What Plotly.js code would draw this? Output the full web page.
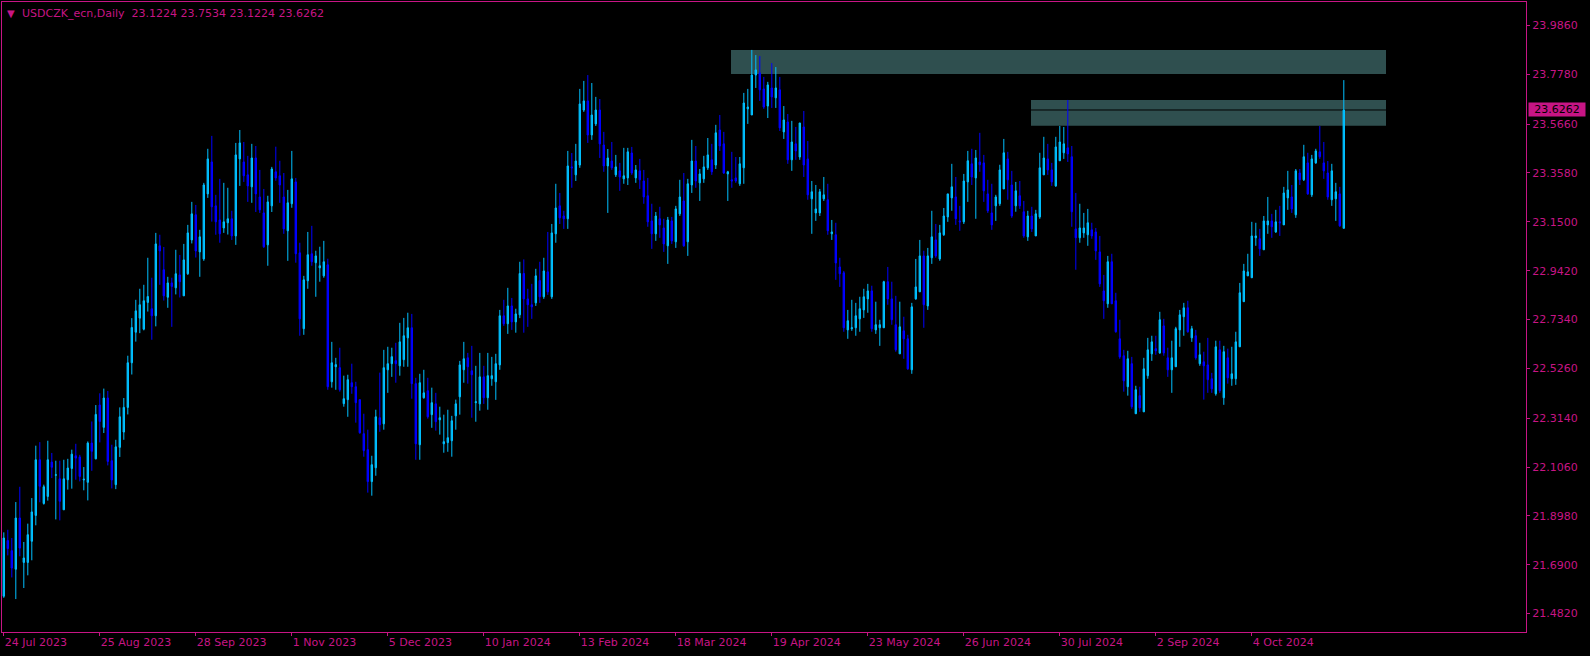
<!DOCTYPE html>
<html><head><meta charset="utf-8">
<script src="https://cdn.plot.ly/plotly-3.0.1.min.js"></script>
<style>html,body{margin:0;padding:0;background:#000;}#chart{width:1590px;height:656px;}</style>
</head><body><div id="chart"></div>
<script>
const symbol = 'USDCZK_ecn';
const period = 'Daily';

const open = [
21.556,21.793,21.750,21.671,21.889,21.700,21.700,21.790,21.900,22.137,
21.951,21.981,22.127,22.071,22.056,21.924,22.052,22.100,22.154,22.149,
22.051,22.041,22.208,22.141,22.370,22.275,22.400,22.133,22.031,22.190,
22.255,22.360,22.550,22.680,22.740,22.693,22.807,22.780,22.750,23.048,
22.946,22.829,22.890,22.869,22.924,22.835,22.929,23.073,23.180,23.022,
22.992,23.269,23.405,23.218,23.158,23.124,23.146,23.163,23.090,23.418,
23.405,23.350,23.299,23.422,23.256,23.188,23.052,23.218,23.363,23.346,
23.256,23.112,23.227,23.320,23.018,22.695,22.899,23.014,22.976,22.954,
22.920,22.967,22.469,22.533,22.529,22.376,22.393,22.465,22.448,22.393,
22.248,22.180,22.044,22.103,22.316,22.290,22.520,22.546,22.559,22.537,
22.563,22.656,22.699,22.461,22.201,22.401,22.431,22.329,22.375,22.307,
22.205,22.210,22.218,22.324,22.405,22.520,22.571,22.516,22.380,22.375,
22.490,22.401,22.482,22.469,22.541,22.750,22.716,22.792,22.724,22.754,
22.930,22.822,22.797,22.805,22.900,22.831,22.937,22.831,23.099,23.218,
23.175,23.163,23.384,23.350,23.392,23.626,23.665,23.520,23.567,23.626,
23.477,23.388,23.409,23.350,23.367,23.333,23.337,23.443,23.337,23.367,
23.324,23.261,23.154,23.099,23.163,23.124,23.048,23.154,23.065,23.184,
23.239,23.065,23.307,23.409,23.316,23.333,23.380,23.414,23.392,23.541,
23.482,23.354,23.329,23.337,23.312,23.380,23.631,23.605,23.775,23.784,
23.716,23.643,23.720,23.678,23.712,23.533,23.575,23.414,23.482,23.426,
23.554,23.418,23.248,23.188,23.188,23.248,23.244,23.099,23.095,22.958,
22.933,22.690,22.695,22.699,22.737,22.775,22.822,22.856,22.690,22.699,
22.699,22.895,22.822,22.712,22.588,22.686,22.652,22.520,22.822,22.852,
23.005,22.792,22.997,23.073,22.992,23.095,23.171,23.252,23.256,23.154,
23.150,23.320,23.397,23.337,23.405,23.401,23.269,23.188,23.218,23.227,
23.290,23.418,23.307,23.218,23.261,23.193,23.086,23.175,23.090,23.171,
23.350,23.418,23.371,23.303,23.410,23.444,23.465,23.427,23.120,23.082,
23.103,23.095,23.116,23.107,23.022,22.856,22.801,22.980,22.814,22.652,
22.580,22.448,22.546,22.333,22.410,22.341,22.495,22.588,22.610,22.592,
22.707,22.571,22.520,22.533,22.690,22.746,22.784,22.656,22.665,22.546,
22.554,22.541,22.482,22.418,22.605,22.401,22.571,22.482,22.482,22.618,
22.810,22.920,22.912,23.082,23.078,23.031,23.137,23.154,23.107,23.150,
23.137,23.252,23.256,23.180,23.358,23.329,23.401,23.265,23.401,23.448,
23.401,23.358,23.244,23.248,23.269,23.1224];

const high = [
21.828,21.839,21.804,21.957,22.022,21.787,21.865,21.974,22.197,22.212,
22.031,22.218,22.166,22.133,22.133,22.137,22.141,22.180,22.205,22.158,
22.106,22.215,22.300,22.370,22.420,22.440,22.430,22.201,22.222,22.360,
22.400,22.580,22.740,22.818,22.865,22.882,22.997,22.912,23.103,23.095,
23.043,22.916,22.912,23.031,23.009,23.056,23.137,23.235,23.222,23.116,
23.316,23.461,23.516,23.265,23.333,23.316,23.295,23.197,23.486,23.541,
23.490,23.431,23.482,23.473,23.371,23.290,23.261,23.384,23.470,23.410,
23.358,23.286,23.452,23.337,23.061,22.920,23.107,23.133,23.027,23.044,
23.069,22.993,22.639,22.571,22.614,22.495,22.499,22.546,22.469,22.393,
22.333,22.265,22.154,22.350,22.508,22.605,22.618,22.614,22.635,22.720,
22.741,22.763,22.758,22.486,22.503,22.520,22.486,22.444,22.422,22.363,
22.329,22.350,22.324,22.393,22.558,22.639,22.592,22.622,22.537,22.592,
22.537,22.592,22.575,22.588,22.775,22.818,22.869,22.826,22.780,22.980,
22.990,22.865,22.886,22.950,22.980,22.997,23.107,23.141,23.312,23.273,
23.197,23.452,23.443,23.482,23.716,23.750,23.775,23.741,23.682,23.673,
23.533,23.460,23.490,23.435,23.401,23.465,23.465,23.469,23.392,23.418,
23.371,23.337,23.227,23.192,23.214,23.163,23.171,23.171,23.218,23.329,
23.358,23.333,23.499,23.473,23.375,23.431,23.507,23.482,23.563,23.605,
23.533,23.367,23.448,23.426,23.426,23.699,23.716,23.882,23.860,23.856,
23.767,23.746,23.826,23.809,23.767,23.643,23.609,23.580,23.554,23.571,
23.622,23.494,23.324,23.307,23.290,23.341,23.312,23.158,23.146,22.997,
22.941,22.775,22.818,22.805,22.831,22.865,22.886,22.878,22.810,22.733,
22.899,22.958,22.895,22.835,22.810,22.746,22.669,22.805,22.992,23.073,
23.027,23.039,23.197,23.141,23.137,23.209,23.269,23.397,23.341,23.218,
23.354,23.452,23.461,23.456,23.529,23.435,23.329,23.312,23.265,23.393,
23.503,23.448,23.367,23.320,23.324,23.239,23.197,23.214,23.201,23.444,
23.512,23.482,23.401,23.512,23.558,23.554,23.669,23.473,23.273,23.227,
23.188,23.205,23.146,23.124,23.090,22.924,23.005,23.014,22.848,22.733,
22.605,22.601,22.575,22.452,22.448,22.571,22.656,22.665,22.665,22.767,
22.737,22.614,22.644,22.703,22.775,22.805,22.814,22.707,22.690,22.635,
22.597,22.656,22.507,22.644,22.644,22.622,22.610,22.618,22.682,22.890,
22.971,23.014,23.150,23.146,23.120,23.175,23.256,23.184,23.201,23.218,
23.299,23.367,23.307,23.375,23.375,23.478,23.444,23.435,23.461,23.558,
23.490,23.409,23.397,23.316,23.299,23.7534];

const low = [
21.549,21.730,21.636,21.544,21.726,21.591,21.645,21.709,21.858,21.956,
21.946,21.963,22.059,21.883,21.879,21.924,22.010,22.014,22.052,22.045,
22.007,21.964,22.090,22.139,22.211,22.251,22.113,22.015,22.012,22.149,
22.222,22.330,22.500,22.640,22.676,22.688,22.768,22.648,22.705,22.882,
22.815,22.784,22.703,22.841,22.828,22.835,22.924,23.058,22.998,22.916,
22.984,23.252,23.151,23.095,23.061,23.103,23.096,23.073,23.052,23.303,
23.320,23.235,23.231,23.192,23.188,23.039,22.963,23.192,23.325,23.231,
23.099,22.984,23.210,22.976,22.665,22.669,22.865,22.963,22.831,22.895,
22.912,22.435,22.444,22.435,22.427,22.363,22.320,22.418,22.295,22.248,
22.150,21.997,21.984,22.069,22.256,22.265,22.422,22.490,22.465,22.495,
22.533,22.533,22.397,22.137,22.137,22.397,22.312,22.273,22.261,22.244,
22.167,22.171,22.150,22.265,22.329,22.465,22.461,22.316,22.299,22.346,
22.375,22.350,22.452,22.392,22.520,22.707,22.673,22.690,22.678,22.740,
22.678,22.703,22.737,22.792,22.805,22.822,22.839,22.822,23.061,23.141,
23.120,23.120,23.295,23.324,23.380,23.618,23.486,23.499,23.558,23.422,
23.363,23.188,23.371,23.341,23.282,23.312,23.307,23.350,23.316,23.290,
23.227,23.129,23.035,23.069,23.082,23.022,22.971,23.056,23.039,23.175,
23.044,23.005,23.273,23.295,23.239,23.316,23.371,23.350,23.375,23.452,
23.354,23.239,23.295,23.316,23.303,23.312,23.567,23.605,23.720,23.665,
23.631,23.592,23.635,23.635,23.537,23.503,23.397,23.367,23.414,23.414,
23.341,23.244,23.099,23.154,23.175,23.239,23.095,23.073,22.903,22.873,
22.682,22.652,22.686,22.665,22.682,22.741,22.763,22.682,22.673,22.622,
22.699,22.797,22.712,22.597,22.588,22.567,22.520,22.503,22.818,22.852,
22.699,22.775,22.971,22.997,22.984,23.090,23.150,23.197,23.137,23.112,
23.141,23.235,23.307,23.163,23.363,23.235,23.188,23.116,23.154,23.218,
23.290,23.244,23.167,23.193,23.205,23.082,23.069,23.107,23.090,23.163,
23.350,23.350,23.303,23.299,23.410,23.418,23.405,23.129,22.946,23.061,
23.082,23.048,23.078,22.988,22.873,22.737,22.784,22.801,22.678,22.567,
22.427,22.410,22.354,22.333,22.341,22.341,22.482,22.558,22.584,22.588,
22.580,22.490,22.422,22.533,22.618,22.665,22.678,22.639,22.563,22.537,
22.393,22.422,22.422,22.410,22.422,22.371,22.461,22.452,22.456,22.618,
22.810,22.920,22.912,23.048,23.005,23.031,23.099,23.082,23.103,23.090,
23.137,23.201,23.188,23.167,23.307,23.324,23.265,23.256,23.397,23.418,
23.333,23.244,23.218,23.154,23.129,23.1224];

const close = [
21.804,21.759,21.676,21.889,21.761,21.719,21.818,21.915,22.137,22.024,
22.022,22.137,22.105,22.073,21.960,22.056,22.102,22.161,22.144,22.066,
22.054,22.208,22.173,22.330,22.300,22.400,22.130,22.051,22.192,22.320,
22.360,22.550,22.700,22.771,22.797,22.814,22.832,22.750,23.056,23.026,
22.835,22.890,22.875,22.929,22.895,22.988,23.103,23.184,23.026,23.086,
23.307,23.418,23.214,23.150,23.099,23.150,23.163,23.090,23.435,23.486,
23.346,23.303,23.422,23.269,23.201,23.044,23.235,23.375,23.337,23.307,
23.120,23.231,23.333,23.014,22.737,22.903,23.010,22.980,23.005,22.963,
22.980,22.448,22.550,22.542,22.435,22.397,22.478,22.448,22.380,22.252,
22.176,22.044,22.116,22.320,22.286,22.529,22.546,22.576,22.546,22.639,
22.665,22.699,22.461,22.205,22.465,22.422,22.320,22.380,22.299,22.316,
22.214,22.231,22.303,22.375,22.541,22.567,22.533,22.499,22.384,22.490,
22.401,22.495,22.495,22.546,22.750,22.716,22.792,22.724,22.758,22.930,
22.822,22.797,22.788,22.920,22.831,22.941,22.852,23.103,23.209,23.167,
23.163,23.388,23.380,23.409,23.652,23.665,23.520,23.605,23.626,23.482,
23.388,23.422,23.380,23.384,23.341,23.346,23.448,23.358,23.371,23.329,
23.256,23.150,23.099,23.175,23.137,23.056,23.158,23.069,23.205,23.256,
23.048,23.312,23.409,23.324,23.354,23.384,23.435,23.363,23.529,23.473,
23.358,23.363,23.324,23.324,23.397,23.656,23.639,23.775,23.797,23.712,
23.639,23.733,23.682,23.720,23.550,23.584,23.414,23.490,23.452,23.571,
23.392,23.265,23.278,23.205,23.278,23.265,23.112,23.107,22.975,22.929,
22.699,22.729,22.699,22.750,22.780,22.831,22.856,22.695,22.712,22.712,
22.895,22.822,22.733,22.605,22.703,22.652,22.524,22.788,22.873,23.005,
22.797,23.005,23.086,23.005,23.103,23.175,23.269,23.299,23.163,23.150,
23.324,23.410,23.341,23.422,23.393,23.282,23.197,23.137,23.256,23.371,
23.444,23.329,23.175,23.282,23.218,23.090,23.175,23.120,23.184,23.380,
23.422,23.371,23.320,23.469,23.490,23.482,23.439,23.193,23.082,23.124,
23.124,23.146,23.090,23.026,22.886,22.814,22.980,22.801,22.682,22.575,
22.473,22.567,22.363,22.435,22.358,22.524,22.605,22.639,22.601,22.733,
22.592,22.520,22.571,22.695,22.754,22.784,22.682,22.695,22.571,22.584,
22.537,22.478,22.439,22.618,22.431,22.597,22.486,22.503,22.639,22.848,
22.941,22.937,23.090,23.090,23.035,23.154,23.154,23.129,23.150,23.146,
23.273,23.286,23.205,23.367,23.329,23.427,23.269,23.418,23.452,23.427,
23.367,23.256,23.367,23.278,23.133,23.6262];

const tickLabels = ['24 Jul 2023','25 Aug 2023','28 Sep 2023','1 Nov 2023','5 Dec 2023','10 Jan 2024',
  '13 Feb 2024','18 Mar 2024','19 Apr 2024','23 May 2024','26 Jun 2024','30 Jul 2024','2 Sep 2024','4 Oct 2024'];
const barsPerLabel = 24;
const priceTicks = [23.9860,23.7780,23.5660,23.3580,23.1500,22.9420,22.7340,22.5260,22.3140,22.1060,21.8980,21.6900,21.4820];

// supply zones (bar index from/to, price low/high)
const zoneFrom = [181.8, 256.8];
const zoneTo   = [345.55, 345.55];
const zoneLow  = [23.7796, 23.5596];
const zoneHigh = [23.8817, 23.6689];

const MAG = '#C71585';
const UP = '#00BFFF';
const DOWN = '#0000FF';
const FONT = 'DejaVu Sans';
const X_RANGE = [-0.45, 380.55];

const x = open.map((_, i) => i);
const last = open.length - 1;

const trace = {
  type: 'candlestick', x: x, open: open, high: high, low: low, close: close,
  increasing: {line: {color: UP, width: 1}, fillcolor: UP},
  decreasing: {line: {color: DOWN, width: 1}, fillcolor: DOWN},
  whiskerwidth: 0, hoverinfo: 'skip'
};

const shapes = zoneFrom.map((f, k) => ({
  type: 'rect', xref: 'x', yref: 'y', x0: f, x1: zoneTo[k], y0: zoneLow[k], y1: zoneHigh[k],
  fillcolor: '#2F4F4F', line: {width: 0}, layer: 'below'
}));
// bid line at last close (black, only visible over the zones)
shapes.push({type: 'line', xref: 'x', yref: 'y', x0: X_RANGE[0], x1: X_RANGE[1], y0: close[last], y1: close[last],
  line: {color: '#000000', width: 1}, layer: 'below'});

const titleText = symbol + ',' + period + '\u00a0 ' + [open[last], high[last], low[last], close[last]].map(v => v.toFixed(4)).join(' ');

const layout = {
  width: 1590, height: 656,
  margin: {l: 2, r: 64, t: 2, b: 24, pad: 0},
  paper_bgcolor: '#000000', plot_bgcolor: '#000000',
  showlegend: false, boxgap: 0.5,
  font: {family: FONT, size: 11, color: MAG},
  xaxis: {
    range: X_RANGE, fixedrange: true,
    rangeslider: {visible: false},
    showgrid: false, zeroline: false,
    showline: true, mirror: true, linecolor: MAG, linewidth: 1,
    tickmode: 'array',
    tickvals: tickLabels.map((_, k) => k * barsPerLabel),
    ticktext: tickLabels,
    ticks: 'outside', ticklen: 3, tickcolor: MAG,
    ticklabelposition: 'outside right',
    tickfont: {family: FONT, size: 11, color: MAG}
  },
  yaxis: {
    side: 'right', range: [21.4037, 24.086], fixedrange: true,
    showgrid: false, zeroline: false,
    showline: true, mirror: true, linecolor: MAG, linewidth: 1,
    tickmode: 'array', tickvals: priceTicks, ticktext: priceTicks.map(v => v.toFixed(4)),
    ticks: 'outside', ticklen: 3, tickcolor: MAG,
    tickfont: {family: FONT, size: 11, color: MAG}
  },
  shapes: shapes,
  annotations: [
    {xref: 'paper', yref: 'paper', x: 0, y: 1, xshift: 3, yshift: -4, xanchor: 'left', yanchor: 'top',
     text: '\u25BC', showarrow: false, font: {family: FONT, size: 10, color: MAG}},
    {xref: 'paper', yref: 'paper', x: 0, y: 1, xshift: 18, yshift: -3, xanchor: 'left', yanchor: 'top',
     text: titleText, showarrow: false, font: {family: FONT, size: 11, color: MAG}},
    {xref: 'paper', yref: 'y', x: 1, y: close[last], xshift: 2, xanchor: 'left', yanchor: 'middle',
     text: close[last].toFixed(4), showarrow: false, bgcolor: MAG, width: 56, height: 13, align: 'center',
     borderpad: 0, font: {family: FONT, size: 11, color: '#000000'}}
  ]
};

Plotly.newPlot('chart', [trace], layout, {displayModeBar: false, staticPlot: true});
</script>
</body></html>
